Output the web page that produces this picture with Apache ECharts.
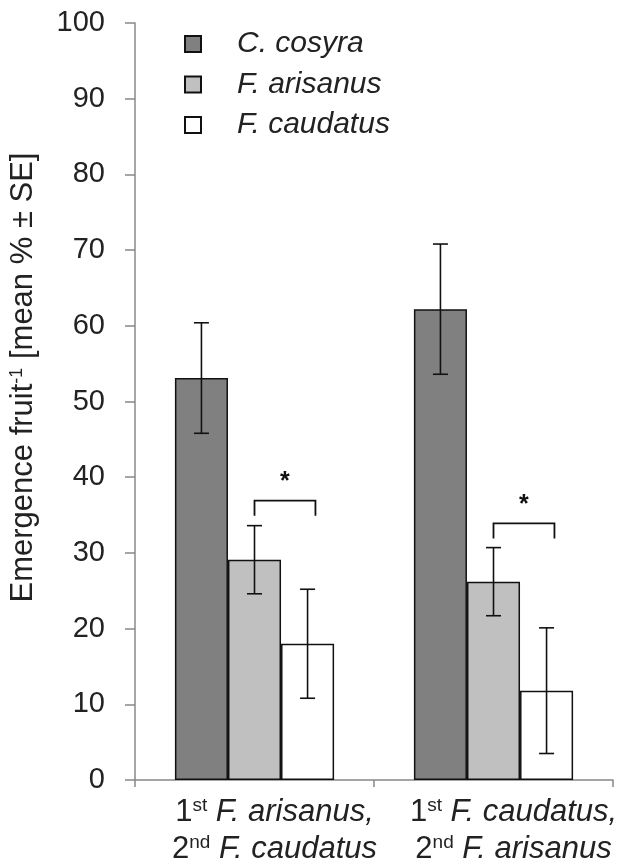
<!DOCTYPE html>
<html lang="en">
<head>
    <meta charset="UTF-8">
    <title>Emergence fruit</title>
    <script src="https://cdn.jsdelivr.net/npm/echarts@6/dist/echarts.min.js"></script>
    <style>
        html, body { margin: 0; padding: 0; background: #fff; }
        #chart { width: 634px; height: 867px; }
    </style>
</head>
<body>
<div id="chart"></div>
<script>
    // data
    var firstWasp = ['F. arisanus,', 'F. caudatus,']
    var secondWasp = ['F. caudatus', 'F. arisanus']
    var seriesNames = ['C. cosyra', 'F. arisanus', 'F. caudatus']
    var meanCosyra = [53.1, 62.2]
    var meanArisanus = [29.1, 26.2]
    var meanCaudatus = [18.0, 11.8]
    var seCosyra = [7.3, 8.6]
    var seArisanus = [4.5, 4.5]
    var seCaudatus = [7.2, 8.3]
    var bracketTop = [36.9, 33.9]
    var starY = [39.3, 36.3]
    var yTicks = [0, 10, 20, 30, 40, 50, 60, 70, 80, 90, 100]

    var colors = ['#808080', '#c0c0c0', '#ffffff']
    var means = [meanCosyra, meanArisanus, meanCaudatus]
    var ses = [seCosyra, seArisanus, seCaudatus]
    var barFrac = 0.222

    var categories = firstWasp.map(function (f, i) {
        return '{n|1}{sup|st}{i| ' + f + '}\n{n|2}{sup|nd}{i| ' + secondWasp[i] + '}'
    })

    var errData = []
    means.forEach(function (m, s) {
        m.forEach(function (v, c) {
            errData.push([c, v - ses[s][c], v + ses[s][c], s])
        })
    })
    var bracketData = bracketTop.map(function (v, c) { return [c, v, starY[c]] })

    var chart = echarts.init(document.getElementById('chart'))

    var series = seriesNames.map(function (name, s) {
        return {
            name: name,
            type: 'bar',
            data: means[s],
            barWidth: (barFrac * 100) + '%',
            barGap: '0%',
            itemStyle: { color: colors[s], borderColor: '#111', borderWidth: 1.5 },
            z: 2
        }
    })

    series.push({
        type: 'custom',
        data: errData,
        z: 5,
        renderItem: function (params, api) {
            var band = api.size([1, 0])[0]
            var off = (api.value(3) - 1) * barFrac * band
            var lo = api.coord([api.value(0), api.value(1)])
            var hi = api.coord([api.value(0), api.value(2)])
            var x = lo[0] + off
            var cap = 7.5
            var st = { stroke: '#111', lineWidth: 1.6, fill: null }
            return {
                type: 'group',
                children: [
                    { type: 'line', shape: { x1: x, y1: lo[1], x2: x, y2: hi[1] }, style: st },
                    { type: 'line', shape: { x1: x - cap, y1: lo[1], x2: x + cap, y2: lo[1] }, style: st },
                    { type: 'line', shape: { x1: x - cap, y1: hi[1], x2: x + cap, y2: hi[1] }, style: st }
                ]
            }
        }
    })

    series.push({
        type: 'custom',
        data: bracketData,
        z: 5,
        renderItem: function (params, api) {
            var band = api.size([1, 0])[0]
            var top = api.coord([api.value(0), api.value(1)])
            var leg = api.size([0, 2])[1]
            var x1 = top[0]
            var x2 = top[0] + 0.255 * band
            var star = api.coord([api.value(0), api.value(2)])
            return {
                type: 'group',
                children: [
                    {
                        type: 'polyline',
                        shape: { points: [[x1, top[1] + leg], [x1, top[1]], [x2, top[1]], [x2, top[1] + leg]] },
                        style: { stroke: '#111', lineWidth: 1.8, fill: null }
                    },
                    {
                        type: 'text',
                        style: {
                            text: '*', x: (x1 + x2) / 2, y: star[1],
                            align: 'center', verticalAlign: 'middle',
                            font: 'bold 25px "Liberation Sans"', fill: '#111'
                        }
                    }
                ]
            }
        }
    })

    chart.setOption({
        animation: false,
        backgroundColor: '#fff',
        textStyle: { fontFamily: 'Liberation Sans' },
        grid: { left: 135, right: 21, top: 23, bottom: 87, containLabel: false },
        legend: {
            orient: 'vertical',
            left: 179,
            top: 24,
            icon: 'rect',
            itemWidth: 16,
            itemHeight: 16,
            itemGap: 10.5,
            data: seriesNames,
            textStyle: { fontSize: 30, fontStyle: 'italic', color: '#222', padding: [0, 0, 0, 31] }
        },
        xAxis: {
            type: 'category',
            data: categories,
            axisLine: { lineStyle: { color: '#888', width: 1.5 } },
            axisTick: { show: true, length: 7, lineStyle: { color: '#888', width: 1.5 } },
            axisLabel: {
                margin: 11,
                interval: 0,
                padding: [0, 0, 0, 40],
                color: '#222',
                rich: {
                    n: { fontSize: 31, color: '#222', lineHeight: 37, verticalAlign: 'bottom' },
                    sup: { fontSize: 19, color: '#222', lineHeight: 37, verticalAlign: 'bottom', padding: [0, 0, 13, 0] },
                    i: { fontSize: 31, fontStyle: 'italic', color: '#222', lineHeight: 37, verticalAlign: 'bottom' }
                }
            }
        },
        yAxis: {
            type: 'value',
            min: yTicks[0],
            max: yTicks[yTicks.length - 1],
            interval: 10,
            name: '{n|Emergence fruit}{sup|-1}{n| [mean % ± SE]}',
            nameLocation: 'middle',
            nameGap: 96,
            nameRotate: 90,
            nameTextStyle: {
                padding: [0, 0, 0, 48],
                rich: {
                    n: { fontSize: 31, color: '#222', verticalAlign: 'bottom', lineHeight: 34 },
                    sup: { fontSize: 18, color: '#222', verticalAlign: 'bottom', lineHeight: 34, padding: [0, 0, 13, 0] }
                }
            },
            axisLine: { show: true, lineStyle: { color: '#888', width: 1.5 } },
            axisTick: { show: true, length: 10, lineStyle: { color: '#888', width: 1.5 } },
            splitLine: { show: false },
            axisLabel: { fontSize: 29, color: '#222', margin: 30 }
        },
        series: series
    })
</script>
</body>
</html>
